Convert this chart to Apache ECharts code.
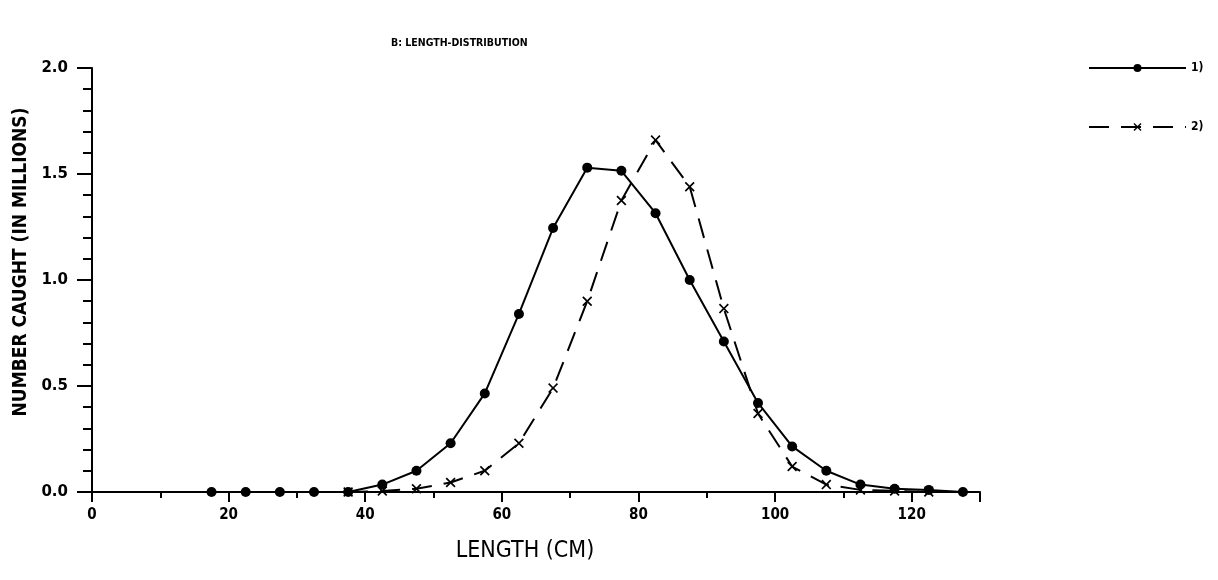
<!DOCTYPE html>
<html>
<head>
<meta charset="utf-8">
<script src="https://cdn.jsdelivr.net/npm/echarts@6/dist/echarts.min.js"></script>
<style>
html,body{margin:0;padding:0;background:#fff;}
#chart{width:1218px;height:580px;}
</style>
</head>
<body>
<div id="chart"></div>
<script>
// Data
const titleText = 'B: LENGTH-DISTRIBUTION';
const xAxisName = 'LENGTH (CM)';
const yAxisName = 'NUMBER CAUGHT (IN MILLIONS)';
const seriesNames = ['1)', '2)'];

const lengths1 = [17.5, 22.5, 27.5, 32.5, 37.5, 42.5, 47.5, 52.5, 57.5, 62.5, 67.5, 72.5, 77.5, 82.5, 87.5, 92.5, 97.5, 102.5, 107.5, 112.5, 117.5, 122.5, 127.5];
const caught1 = [0.0, 0.0, 0.0, 0.0, 0.0, 0.035, 0.10, 0.23, 0.465, 0.84, 1.245, 1.53, 1.515, 1.315, 1.0, 0.71, 0.42, 0.215, 0.10, 0.035, 0.015, 0.01, 0.0];

const lengths2 = [37.5, 42.5, 47.5, 52.5, 57.5, 62.5, 67.5, 72.5, 77.5, 82.5, 87.5, 92.5, 97.5, 102.5, 107.5, 112.5, 117.5, 122.5];
const caught2 = [0.0, 0.005, 0.015, 0.045, 0.10, 0.23, 0.49, 0.90, 1.375, 1.66, 1.44, 0.865, 0.37, 0.12, 0.035, 0.01, 0.005, 0.0];

const xTicks = { min: 0, max: 130, interval: 20 };
const yTicks = { min: 0, max: 2.0, interval: 0.5 };

const pairs = (xs, ys) => xs.map((x, i) => [x, ys[i]]);
const xMarker = 'path://M0,1.2 L1.2,0 L5,3.8 L8.8,0 L10,1.2 L6.2,5 L10,8.8 L8.8,10 L5,6.2 L1.2,10 L0,8.8 L3.8,5 Z';
const condBold = "'DejaVu Sans Condensed', 'DejaVu Sans', sans-serif";

const chart = echarts.init(document.getElementById('chart'), null, { renderer: 'canvas' });
chart.setOption({
  backgroundColor: '#ffffff',
  animation: false,
  title: {
    text: titleText,
    left: 386, top: 33,
    textStyle: { fontFamily: condBold, fontWeight: 'bold', fontSize: 10.5, color: '#000' }
  },
  legend: {
    orient: 'vertical',
    left: 1083, top: 57,
    itemWidth: 97, itemHeight: 10,
    itemGap: 47,
    textStyle: { fontFamily: condBold, fontWeight: 'bold', fontSize: 12, color: '#000' },
    data: seriesNames
  },
  grid: { left: 92, top: 68, right: 238, bottom: 88, containLabel: false },
  xAxis: {
    type: 'value',
    min: xTicks.min, max: xTicks.max, interval: xTicks.interval,
    name: xAxisName,
    nameLocation: 'middle',
    nameGap: 48,
    nameTextStyle: { fontFamily: "'Liberation Sans Narrow', 'DejaVu Sans Condensed', sans-serif", fontSize: 23, color: '#000', padding: [0, 22, 0, 0] },
    axisLine: { lineStyle: { color: '#000', width: 2 } },
    axisTick: { show: true, length: 10, lineStyle: { color: '#000', width: 2 } },
    minorTick: { show: true, splitNumber: 2, length: 6, lineStyle: { color: '#000', width: 2 } },
    axisLabel: { fontFamily: condBold, fontWeight: 'bold', fontSize: 15, color: '#000', margin: 16,
      formatter: v => (v % 20 === 0 ? String(v) : '') },
    splitLine: { show: false }
  },
  yAxis: {
    type: 'value',
    min: yTicks.min, max: yTicks.max, interval: yTicks.interval,
    name: yAxisName,
    nameLocation: 'middle',
    nameRotate: 90,
    nameGap: 61,
    nameTextStyle: { fontFamily: condBold, fontWeight: 'bold', fontSize: 19, color: '#000', padding: [0, 0, 0, 36] },
    axisLine: { show: true, lineStyle: { color: '#000', width: 2 } },
    axisTick: { show: true, length: 15, lineStyle: { color: '#000', width: 2 } },
    minorTick: { show: true, splitNumber: 5, length: 9, lineStyle: { color: '#000', width: 2 } },
    axisLabel: { fontFamily: "'DejaVu Sans', sans-serif", fontWeight: 'bold', fontSize: 15, color: '#000', margin: 24,
      formatter: v => v.toFixed(1) },
    splitLine: { show: false }
  },
  series: [
    {
      name: seriesNames[0],
      type: 'line',
      data: pairs(lengths1, caught1),
      symbol: 'circle',
      symbolSize: 10,
      itemStyle: { color: '#000' },
      lineStyle: { color: '#000', width: 2, type: 'solid' },
      z: 3
    },
    {
      name: seriesNames[1],
      type: 'line',
      data: pairs(lengths2, caught2),
      symbol: xMarker,
      symbolSize: 10,
      itemStyle: { color: '#000' },
      lineStyle: { color: '#000', width: 2, type: [20, 12] },
      z: 2
    }
  ]
});
</script>
</body>
</html>
